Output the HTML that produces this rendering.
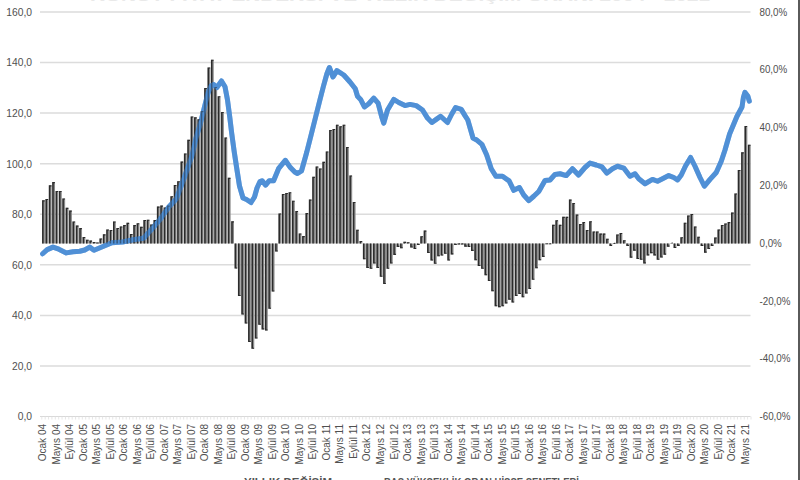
<!DOCTYPE html>
<html><head><meta charset="utf-8"><title>chart</title><style>
html,body{margin:0;padding:0;background:#fff;width:800px;height:480px;overflow:hidden}
svg{display:block}
text{font-family:"Liberation Sans",sans-serif}
</style></head><body>
<svg width="800" height="480" viewBox="0 0 800 480">
<rect x="0" y="0" width="800" height="480" fill="#fff"/>
<text x="400" y="0.6" text-anchor="middle" font-size="15" font-weight="bold" fill="#e9e9e9" textLength="620" lengthAdjust="spacingAndGlyphs">KONUT FİYAT ENDEKSİ VE YILLIK DEĞİŞİM ORANI 2004 - 2021</text>
<rect x="798" y="0" width="2" height="480" fill="#5a5a5a"/>
<path d="M40 12.00H750.5 M40 62.56H750.5 M40 113.12H750.5 M40 163.69H750.5 M40 214.25H750.5 M40 264.81H750.5 M40 315.38H750.5 M40 365.94H750.5" stroke="#dcdcdc" stroke-width="1.5" fill="none"/>
<path d="M40 416.5H750.5" stroke="#d9d9d9" stroke-width="1.2" fill="none"/>
<path d="M41.80 416.5V419.5 M45.18 416.5V419.5 M48.55 416.5V419.5 M51.93 416.5V419.5 M55.31 416.5V419.5 M58.69 416.5V419.5 M62.06 416.5V419.5 M65.44 416.5V419.5 M68.82 416.5V419.5 M72.19 416.5V419.5 M75.57 416.5V419.5 M78.95 416.5V419.5 M82.33 416.5V419.5 M85.70 416.5V419.5 M89.08 416.5V419.5 M92.46 416.5V419.5 M95.83 416.5V419.5 M99.21 416.5V419.5 M102.59 416.5V419.5 M105.97 416.5V419.5 M109.34 416.5V419.5 M112.72 416.5V419.5 M116.10 416.5V419.5 M119.47 416.5V419.5 M122.85 416.5V419.5 M126.23 416.5V419.5 M129.61 416.5V419.5 M132.98 416.5V419.5 M136.36 416.5V419.5 M139.74 416.5V419.5 M143.11 416.5V419.5 M146.49 416.5V419.5 M149.87 416.5V419.5 M153.25 416.5V419.5 M156.62 416.5V419.5 M160.00 416.5V419.5 M163.38 416.5V419.5 M166.75 416.5V419.5 M170.13 416.5V419.5 M173.51 416.5V419.5 M176.89 416.5V419.5 M180.26 416.5V419.5 M183.64 416.5V419.5 M187.02 416.5V419.5 M190.39 416.5V419.5 M193.77 416.5V419.5 M197.15 416.5V419.5 M200.53 416.5V419.5 M203.90 416.5V419.5 M207.28 416.5V419.5 M210.66 416.5V419.5 M214.03 416.5V419.5 M217.41 416.5V419.5 M220.79 416.5V419.5 M224.17 416.5V419.5 M227.54 416.5V419.5 M230.92 416.5V419.5 M234.30 416.5V419.5 M237.67 416.5V419.5 M241.05 416.5V419.5 M244.43 416.5V419.5 M247.81 416.5V419.5 M251.18 416.5V419.5 M254.56 416.5V419.5 M257.94 416.5V419.5 M261.31 416.5V419.5 M264.69 416.5V419.5 M268.07 416.5V419.5 M271.45 416.5V419.5 M274.82 416.5V419.5 M278.20 416.5V419.5 M281.58 416.5V419.5 M284.95 416.5V419.5 M288.33 416.5V419.5 M291.71 416.5V419.5 M295.09 416.5V419.5 M298.46 416.5V419.5 M301.84 416.5V419.5 M305.22 416.5V419.5 M308.59 416.5V419.5 M311.97 416.5V419.5 M315.35 416.5V419.5 M318.73 416.5V419.5 M322.10 416.5V419.5 M325.48 416.5V419.5 M328.86 416.5V419.5 M332.23 416.5V419.5 M335.61 416.5V419.5 M338.99 416.5V419.5 M342.37 416.5V419.5 M345.74 416.5V419.5 M349.12 416.5V419.5 M352.50 416.5V419.5 M355.87 416.5V419.5 M359.25 416.5V419.5 M362.63 416.5V419.5 M366.01 416.5V419.5 M369.38 416.5V419.5 M372.76 416.5V419.5 M376.14 416.5V419.5 M379.51 416.5V419.5 M382.89 416.5V419.5 M386.27 416.5V419.5 M389.65 416.5V419.5 M393.02 416.5V419.5 M396.40 416.5V419.5 M399.78 416.5V419.5 M403.15 416.5V419.5 M406.53 416.5V419.5 M409.91 416.5V419.5 M413.29 416.5V419.5 M416.66 416.5V419.5 M420.04 416.5V419.5 M423.42 416.5V419.5 M426.79 416.5V419.5 M430.17 416.5V419.5 M433.55 416.5V419.5 M436.93 416.5V419.5 M440.30 416.5V419.5 M443.68 416.5V419.5 M447.06 416.5V419.5 M450.43 416.5V419.5 M453.81 416.5V419.5 M457.19 416.5V419.5 M460.57 416.5V419.5 M463.94 416.5V419.5 M467.32 416.5V419.5 M470.70 416.5V419.5 M474.07 416.5V419.5 M477.45 416.5V419.5 M480.83 416.5V419.5 M484.21 416.5V419.5 M487.58 416.5V419.5 M490.96 416.5V419.5 M494.34 416.5V419.5 M497.71 416.5V419.5 M501.09 416.5V419.5 M504.47 416.5V419.5 M507.85 416.5V419.5 M511.22 416.5V419.5 M514.60 416.5V419.5 M517.98 416.5V419.5 M521.35 416.5V419.5 M524.73 416.5V419.5 M528.11 416.5V419.5 M531.49 416.5V419.5 M534.86 416.5V419.5 M538.24 416.5V419.5 M541.62 416.5V419.5 M544.99 416.5V419.5 M548.37 416.5V419.5 M551.75 416.5V419.5 M555.13 416.5V419.5 M558.50 416.5V419.5 M561.88 416.5V419.5 M565.26 416.5V419.5 M568.63 416.5V419.5 M572.01 416.5V419.5 M575.39 416.5V419.5 M578.77 416.5V419.5 M582.14 416.5V419.5 M585.52 416.5V419.5 M588.90 416.5V419.5 M592.27 416.5V419.5 M595.65 416.5V419.5 M599.03 416.5V419.5 M602.41 416.5V419.5 M605.78 416.5V419.5 M609.16 416.5V419.5 M612.54 416.5V419.5 M615.91 416.5V419.5 M619.29 416.5V419.5 M622.67 416.5V419.5 M626.05 416.5V419.5 M629.42 416.5V419.5 M632.80 416.5V419.5 M636.18 416.5V419.5 M639.55 416.5V419.5 M642.93 416.5V419.5 M646.31 416.5V419.5 M649.69 416.5V419.5 M653.06 416.5V419.5 M656.44 416.5V419.5 M659.82 416.5V419.5 M663.19 416.5V419.5 M666.57 416.5V419.5 M669.95 416.5V419.5 M673.33 416.5V419.5 M676.70 416.5V419.5 M680.08 416.5V419.5 M683.46 416.5V419.5 M686.83 416.5V419.5 M690.21 416.5V419.5 M693.59 416.5V419.5 M696.97 416.5V419.5 M700.34 416.5V419.5 M703.72 416.5V419.5 M707.10 416.5V419.5 M710.47 416.5V419.5 M713.85 416.5V419.5 M717.23 416.5V419.5 M720.61 416.5V419.5 M723.98 416.5V419.5 M727.36 416.5V419.5 M730.74 416.5V419.5 M734.11 416.5V419.5 M737.49 416.5V419.5 M740.87 416.5V419.5 M744.25 416.5V419.5 M747.62 416.5V419.5 M751.00 416.5V419.5" stroke="#e0e0e0" stroke-width="0.8" fill="none"/>
<text x="32" y="15.8" text-anchor="end" font-size="10.3" fill="#505050">160,0</text>
<text x="32" y="66.4" text-anchor="end" font-size="10.3" fill="#505050">140,0</text>
<text x="32" y="116.9" text-anchor="end" font-size="10.3" fill="#505050">120,0</text>
<text x="32" y="167.5" text-anchor="end" font-size="10.3" fill="#505050">100,0</text>
<text x="32" y="218.1" text-anchor="end" font-size="10.3" fill="#505050">80,0</text>
<text x="32" y="268.6" text-anchor="end" font-size="10.3" fill="#505050">60,0</text>
<text x="32" y="319.2" text-anchor="end" font-size="10.3" fill="#505050">40,0</text>
<text x="32" y="369.7" text-anchor="end" font-size="10.3" fill="#505050">20,0</text>
<text x="32" y="420.3" text-anchor="end" font-size="10.3" fill="#505050">0,0</text>
<text transform="translate(759.5,15.6) scale(0.95,1.05)" font-size="10.3" fill="#505050">80,0%</text>
<text transform="translate(759.5,73.4) scale(0.95,1.05)" font-size="10.3" fill="#505050">60,0%</text>
<text transform="translate(759.5,131.2) scale(0.95,1.05)" font-size="10.3" fill="#505050">40,0%</text>
<text transform="translate(759.5,189.0) scale(0.95,1.05)" font-size="10.3" fill="#505050">20,0%</text>
<text transform="translate(759.5,246.7) scale(0.95,1.05)" font-size="10.3" fill="#505050">0,0%</text>
<text transform="translate(759.5,304.5) scale(0.95,1.05)" font-size="10.3" fill="#505050">-20,0%</text>
<text transform="translate(759.5,362.3) scale(0.95,1.05)" font-size="10.3" fill="#505050">-40,0%</text>
<text transform="translate(759.5,420.1) scale(0.95,1.05)" font-size="10.3" fill="#505050">-60,0%</text>
<text transform="translate(46.29,424) rotate(-90) scale(1,1.1)" text-anchor="end" font-size="10" fill="#505050">Ocak 04</text>
<text transform="translate(59.80,424) rotate(-90) scale(1,1.1)" text-anchor="end" font-size="10" fill="#505050">Mayıs 04</text>
<text transform="translate(73.31,424) rotate(-90) scale(1,1.1)" text-anchor="end" font-size="10" fill="#505050">Eylül 04</text>
<text transform="translate(86.81,424) rotate(-90) scale(1,1.1)" text-anchor="end" font-size="10" fill="#505050">Ocak 05</text>
<text transform="translate(100.32,424) rotate(-90) scale(1,1.1)" text-anchor="end" font-size="10" fill="#505050">Mayıs 05</text>
<text transform="translate(113.83,424) rotate(-90) scale(1,1.1)" text-anchor="end" font-size="10" fill="#505050">Eylül 05</text>
<text transform="translate(127.34,424) rotate(-90) scale(1,1.1)" text-anchor="end" font-size="10" fill="#505050">Ocak 06</text>
<text transform="translate(140.85,424) rotate(-90) scale(1,1.1)" text-anchor="end" font-size="10" fill="#505050">Mayıs 06</text>
<text transform="translate(154.36,424) rotate(-90) scale(1,1.1)" text-anchor="end" font-size="10" fill="#505050">Eylül 06</text>
<text transform="translate(167.87,424) rotate(-90) scale(1,1.1)" text-anchor="end" font-size="10" fill="#505050">Ocak 07</text>
<text transform="translate(181.37,424) rotate(-90) scale(1,1.1)" text-anchor="end" font-size="10" fill="#505050">Mayıs 07</text>
<text transform="translate(194.88,424) rotate(-90) scale(1,1.1)" text-anchor="end" font-size="10" fill="#505050">Eylül 07</text>
<text transform="translate(208.39,424) rotate(-90) scale(1,1.1)" text-anchor="end" font-size="10" fill="#505050">Ocak 08</text>
<text transform="translate(221.90,424) rotate(-90) scale(1,1.1)" text-anchor="end" font-size="10" fill="#505050">Mayıs 08</text>
<text transform="translate(235.41,424) rotate(-90) scale(1,1.1)" text-anchor="end" font-size="10" fill="#505050">Eylül 08</text>
<text transform="translate(248.92,424) rotate(-90) scale(1,1.1)" text-anchor="end" font-size="10" fill="#505050">Ocak 09</text>
<text transform="translate(262.43,424) rotate(-90) scale(1,1.1)" text-anchor="end" font-size="10" fill="#505050">Mayıs 09</text>
<text transform="translate(275.93,424) rotate(-90) scale(1,1.1)" text-anchor="end" font-size="10" fill="#505050">Eylül 09</text>
<text transform="translate(289.44,424) rotate(-90) scale(1,1.1)" text-anchor="end" font-size="10" fill="#505050">Ocak 10</text>
<text transform="translate(302.95,424) rotate(-90) scale(1,1.1)" text-anchor="end" font-size="10" fill="#505050">Mayıs 10</text>
<text transform="translate(316.46,424) rotate(-90) scale(1,1.1)" text-anchor="end" font-size="10" fill="#505050">Eylül 10</text>
<text transform="translate(329.97,424) rotate(-90) scale(1,1.1)" text-anchor="end" font-size="10" fill="#505050">Ocak 11</text>
<text transform="translate(343.48,424) rotate(-90) scale(1,1.1)" text-anchor="end" font-size="10" fill="#505050">Mayıs 11</text>
<text transform="translate(356.99,424) rotate(-90) scale(1,1.1)" text-anchor="end" font-size="10" fill="#505050">Eylül 11</text>
<text transform="translate(370.49,424) rotate(-90) scale(1,1.1)" text-anchor="end" font-size="10" fill="#505050">Ocak 12</text>
<text transform="translate(384.00,424) rotate(-90) scale(1,1.1)" text-anchor="end" font-size="10" fill="#505050">Mayıs 12</text>
<text transform="translate(397.51,424) rotate(-90) scale(1,1.1)" text-anchor="end" font-size="10" fill="#505050">Eylül 12</text>
<text transform="translate(411.02,424) rotate(-90) scale(1,1.1)" text-anchor="end" font-size="10" fill="#505050">Ocak 13</text>
<text transform="translate(424.53,424) rotate(-90) scale(1,1.1)" text-anchor="end" font-size="10" fill="#505050">Mayıs 13</text>
<text transform="translate(438.04,424) rotate(-90) scale(1,1.1)" text-anchor="end" font-size="10" fill="#505050">Eylül 13</text>
<text transform="translate(451.55,424) rotate(-90) scale(1,1.1)" text-anchor="end" font-size="10" fill="#505050">Ocak 14</text>
<text transform="translate(465.05,424) rotate(-90) scale(1,1.1)" text-anchor="end" font-size="10" fill="#505050">Mayıs 14</text>
<text transform="translate(478.56,424) rotate(-90) scale(1,1.1)" text-anchor="end" font-size="10" fill="#505050">Eylül 14</text>
<text transform="translate(492.07,424) rotate(-90) scale(1,1.1)" text-anchor="end" font-size="10" fill="#505050">Ocak 15</text>
<text transform="translate(505.58,424) rotate(-90) scale(1,1.1)" text-anchor="end" font-size="10" fill="#505050">Mayıs 15</text>
<text transform="translate(519.09,424) rotate(-90) scale(1,1.1)" text-anchor="end" font-size="10" fill="#505050">Eylül 15</text>
<text transform="translate(532.60,424) rotate(-90) scale(1,1.1)" text-anchor="end" font-size="10" fill="#505050">Ocak 16</text>
<text transform="translate(546.11,424) rotate(-90) scale(1,1.1)" text-anchor="end" font-size="10" fill="#505050">Mayıs 16</text>
<text transform="translate(559.61,424) rotate(-90) scale(1,1.1)" text-anchor="end" font-size="10" fill="#505050">Eylül 16</text>
<text transform="translate(573.12,424) rotate(-90) scale(1,1.1)" text-anchor="end" font-size="10" fill="#505050">Ocak 17</text>
<text transform="translate(586.63,424) rotate(-90) scale(1,1.1)" text-anchor="end" font-size="10" fill="#505050">Mayıs 17</text>
<text transform="translate(600.14,424) rotate(-90) scale(1,1.1)" text-anchor="end" font-size="10" fill="#505050">Eylül 17</text>
<text transform="translate(613.65,424) rotate(-90) scale(1,1.1)" text-anchor="end" font-size="10" fill="#505050">Ocak 18</text>
<text transform="translate(627.16,424) rotate(-90) scale(1,1.1)" text-anchor="end" font-size="10" fill="#505050">Mayıs 18</text>
<text transform="translate(640.67,424) rotate(-90) scale(1,1.1)" text-anchor="end" font-size="10" fill="#505050">Eylül 18</text>
<text transform="translate(654.17,424) rotate(-90) scale(1,1.1)" text-anchor="end" font-size="10" fill="#505050">Ocak 19</text>
<text transform="translate(667.68,424) rotate(-90) scale(1,1.1)" text-anchor="end" font-size="10" fill="#505050">Mayıs 19</text>
<text transform="translate(681.19,424) rotate(-90) scale(1,1.1)" text-anchor="end" font-size="10" fill="#505050">Eylül 19</text>
<text transform="translate(694.70,424) rotate(-90) scale(1,1.1)" text-anchor="end" font-size="10" fill="#505050">Ocak 20</text>
<text transform="translate(708.21,424) rotate(-90) scale(1,1.1)" text-anchor="end" font-size="10" fill="#505050">Mayıs 20</text>
<text transform="translate(721.72,424) rotate(-90) scale(1,1.1)" text-anchor="end" font-size="10" fill="#505050">Eylül 20</text>
<text transform="translate(735.23,424) rotate(-90) scale(1,1.1)" text-anchor="end" font-size="10" fill="#505050">Ocak 21</text>
<text transform="translate(748.73,424) rotate(-90) scale(1,1.1)" text-anchor="end" font-size="10" fill="#505050">Mayıs 21</text>
<path d="M42.09 200.30h2.8v43.10h-2.8z M45.47 199.00h2.8v44.40h-2.8z M48.84 185.30h2.8v58.10h-2.8z M52.22 182.10h2.8v61.30h-2.8z M55.60 190.90h2.8v52.50h-2.8z M58.97 190.90h2.8v52.50h-2.8z M62.35 198.40h2.8v45.00h-2.8z M65.73 207.80h2.8v35.60h-2.8z M69.11 210.60h2.8v32.80h-2.8z M72.48 221.50h2.8v21.90h-2.8z M75.86 225.60h2.8v17.80h-2.8z M79.24 228.10h2.8v15.30h-2.8z M82.61 236.90h2.8v6.50h-2.8z M85.99 239.70h2.8v3.70h-2.8z M89.37 240.60h2.8v2.80h-2.8z M92.75 242.10h2.8v1.30h-2.8z M96.12 242.50h2.8v0.90h-2.8z M99.50 238.50h2.8v4.90h-2.8z M102.88 234.30h2.8v9.10h-2.8z M106.25 229.40h2.8v14.00h-2.8z M109.63 229.90h2.8v13.50h-2.8z M113.01 221.50h2.8v21.90h-2.8z M116.39 228.00h2.8v15.40h-2.8z M119.76 226.40h2.8v17.00h-2.8z M123.14 225.10h2.8v18.30h-2.8z M126.52 222.80h2.8v20.60h-2.8z M129.89 233.90h2.8v9.50h-2.8z M133.27 225.10h2.8v18.30h-2.8z M136.65 223.20h2.8v20.20h-2.8z M140.03 226.80h2.8v16.60h-2.8z M143.40 220.00h2.8v23.40h-2.8z M146.78 219.70h2.8v23.70h-2.8z M150.16 224.50h2.8v18.90h-2.8z M153.53 220.00h2.8v23.40h-2.8z M156.91 206.60h2.8v36.80h-2.8z M160.29 205.60h2.8v37.80h-2.8z M163.67 207.50h2.8v35.90h-2.8z M167.04 205.60h2.8v37.80h-2.8z M170.42 196.25h2.8v47.15h-2.8z M173.80 185.00h2.8v58.40h-2.8z M177.17 181.25h2.8v62.15h-2.8z M180.55 161.60h2.8v81.80h-2.8z M183.93 153.50h2.8v89.90h-2.8z M187.31 139.80h2.8v103.60h-2.8z M190.68 116.40h2.8v127.00h-2.8z M194.06 117.30h2.8v126.10h-2.8z M197.44 119.20h2.8v124.20h-2.8z M200.81 111.10h2.8v132.30h-2.8z M204.19 88.00h2.8v155.40h-2.8z M207.57 67.40h2.8v176.00h-2.8z M210.95 59.70h2.8v183.70h-2.8z M214.32 87.00h2.8v156.40h-2.8z M217.70 96.25h2.8v147.15h-2.8z M221.08 112.00h2.8v131.40h-2.8z M224.45 137.50h2.8v105.90h-2.8z M227.83 177.80h2.8v65.60h-2.8z M231.21 221.30h2.8v22.10h-2.8z M234.59 243.40h2.8v25.20h-2.8z M237.96 243.40h2.8v52.70h-2.8z M241.34 243.40h2.8v71.10h-2.8z M244.72 243.40h2.8v80.20h-2.8z M248.09 243.40h2.8v98.60h-2.8z M251.47 243.40h2.8v105.40h-2.8z M254.85 243.40h2.8v95.10h-2.8z M258.23 243.40h2.8v81.40h-2.8z M261.60 243.40h2.8v86.00h-2.8z M264.98 243.40h2.8v87.10h-2.8z M268.36 243.40h2.8v65.35h-2.8z M271.73 243.40h2.8v48.20h-2.8z M275.11 243.40h2.8v8.10h-2.8z M278.49 213.40h2.8v30.00h-2.8z M281.87 194.00h2.8v49.40h-2.8z M285.24 193.00h2.8v50.40h-2.8z M288.62 192.20h2.8v51.20h-2.8z M292.00 200.70h2.8v42.70h-2.8z M295.37 211.00h2.8v32.40h-2.8z M298.75 233.40h2.8v10.00h-2.8z M302.13 236.10h2.8v7.30h-2.8z M305.51 213.10h2.8v30.30h-2.8z M308.88 199.60h2.8v43.80h-2.8z M312.26 176.80h2.8v66.60h-2.8z M315.64 166.50h2.8v76.90h-2.8z M319.01 168.50h2.8v74.90h-2.8z M322.39 161.80h2.8v81.60h-2.8z M325.77 151.50h2.8v91.90h-2.8z M329.15 130.00h2.8v113.40h-2.8z M332.52 129.00h2.8v114.40h-2.8z M335.90 124.75h2.8v118.65h-2.8z M339.28 126.25h2.8v117.15h-2.8z M342.65 124.75h2.8v118.65h-2.8z M346.03 146.90h2.8v96.50h-2.8z M349.41 175.50h2.8v67.90h-2.8z M352.79 201.90h2.8v41.50h-2.8z M356.16 229.70h2.8v13.70h-2.8z M359.54 241.00h2.8v2.40h-2.8z M362.92 243.40h2.8v15.90h-2.8z M366.29 243.40h2.8v24.60h-2.8z M369.67 243.40h2.8v25.35h-2.8z M373.05 243.40h2.8v20.20h-2.8z M376.43 243.40h2.8v24.60h-2.8z M379.80 243.40h2.8v33.40h-2.8z M383.18 243.40h2.8v40.60h-2.8z M386.56 243.40h2.8v25.35h-2.8z M389.93 243.40h2.8v20.20h-2.8z M393.31 243.40h2.8v11.50h-2.8z M396.69 243.40h2.8v3.50h-2.8z M400.07 243.40h2.8v4.90h-2.8z M403.44 241.80h2.8v1.60h-2.8z M406.82 242.20h2.8v1.20h-2.8z M410.20 243.40h2.8v4.10h-2.8z M413.57 243.40h2.8v5.60h-2.8z M416.95 243.40h2.8v1.60h-2.8z M420.33 236.25h2.8v7.15h-2.8z M423.71 230.60h2.8v12.80h-2.8z M427.08 243.40h2.8v9.70h-2.8z M430.46 243.40h2.8v17.20h-2.8z M433.84 243.40h2.8v20.35h-2.8z M437.21 243.40h2.8v12.85h-2.8z M440.59 243.40h2.8v12.20h-2.8z M443.97 243.40h2.8v10.35h-2.8z M447.35 243.40h2.8v17.20h-2.8z M450.72 243.40h2.8v11.00h-2.8z M454.10 243.40h2.8v1.60h-2.8z M457.48 243.40h2.8v1.00h-2.8z M460.85 243.40h2.8v1.00h-2.8z M464.23 243.40h2.8v3.30h-2.8z M467.61 243.40h2.8v3.60h-2.8z M470.99 243.40h2.8v7.50h-2.8z M474.36 243.40h2.8v16.90h-2.8z M477.74 243.40h2.8v22.60h-2.8z M481.12 243.40h2.8v25.35h-2.8z M484.49 243.40h2.8v31.90h-2.8z M487.87 243.40h2.8v37.60h-2.8z M491.25 243.40h2.8v47.85h-2.8z M494.63 243.40h2.8v62.85h-2.8z M498.00 243.40h2.8v63.80h-2.8z M501.38 243.40h2.8v62.85h-2.8z M504.76 243.40h2.8v60.00h-2.8z M508.13 243.40h2.8v56.30h-2.8z M511.51 243.40h2.8v59.10h-2.8z M514.89 243.40h2.8v52.60h-2.8z M518.27 243.40h2.8v50.60h-2.8z M521.64 243.40h2.8v53.90h-2.8z M525.02 243.40h2.8v50.10h-2.8z M528.40 243.40h2.8v45.60h-2.8z M531.77 243.40h2.8v36.40h-2.8z M535.15 243.40h2.8v24.90h-2.8z M538.53 243.40h2.8v16.90h-2.8z M541.91 243.40h2.8v13.50h-2.8z M545.28 243.40h2.8v0.90h-2.8z M548.66 243.40h2.8v0.90h-2.8z M552.04 224.80h2.8v18.60h-2.8z M555.41 220.20h2.8v23.20h-2.8z M558.79 224.80h2.8v18.60h-2.8z M562.17 216.80h2.8v26.60h-2.8z M565.55 216.80h2.8v26.60h-2.8z M568.92 199.60h2.8v43.80h-2.8z M572.30 203.00h2.8v40.40h-2.8z M575.68 214.60h2.8v28.80h-2.8z M579.05 223.90h2.8v19.50h-2.8z M582.43 222.00h2.8v21.40h-2.8z M585.81 230.00h2.8v13.40h-2.8z M589.19 221.25h2.8v22.15h-2.8z M592.56 231.50h2.8v11.90h-2.8z M595.94 231.50h2.8v11.90h-2.8z M599.32 233.60h2.8v9.80h-2.8z M602.69 233.60h2.8v9.80h-2.8z M606.07 238.75h2.8v4.65h-2.8z M609.45 243.40h2.8v2.60h-2.8z M612.83 243.40h2.8v0.50h-2.8z M616.20 234.40h2.8v9.00h-2.8z M619.58 232.90h2.8v10.50h-2.8z M622.96 240.20h2.8v3.20h-2.8z M626.33 243.40h2.8v2.60h-2.8z M629.71 243.40h2.8v14.25h-2.8z M633.09 243.40h2.8v7.30h-2.8z M636.47 243.40h2.8v15.70h-2.8z M639.84 243.40h2.8v16.40h-2.8z M643.22 243.40h2.8v20.00h-2.8z M646.60 243.40h2.8v12.00h-2.8z M649.97 243.40h2.8v9.80h-2.8z M653.35 243.40h2.8v12.00h-2.8z M656.73 243.40h2.8v16.40h-2.8z M660.11 243.40h2.8v14.20h-2.8z M663.48 243.40h2.8v11.30h-2.8z M666.86 243.40h2.8v3.30h-2.8z M670.24 243.40h2.8v0.40h-2.8z M673.61 243.40h2.8v4.70h-2.8z M676.99 243.40h2.8v2.50h-2.8z M680.37 237.20h2.8v6.20h-2.8z M683.75 222.70h2.8v20.70h-2.8z M687.12 215.40h2.8v28.00h-2.8z M690.50 214.00h2.8v29.40h-2.8z M693.88 226.50h2.8v16.90h-2.8z M697.25 236.70h2.8v6.70h-2.8z M700.63 243.40h2.8v2.70h-2.8z M704.01 243.40h2.8v9.30h-2.8z M707.39 243.40h2.8v5.60h-2.8z M710.76 243.40h2.8v2.70h-2.8z M714.14 237.40h2.8v6.00h-2.8z M717.52 229.40h2.8v14.00h-2.8z M720.89 225.00h2.8v18.40h-2.8z M724.27 223.50h2.8v19.90h-2.8z M727.65 222.10h2.8v21.30h-2.8z M731.03 212.60h2.8v30.80h-2.8z M734.40 193.40h2.8v50.00h-2.8z M737.78 170.00h2.8v73.40h-2.8z M741.16 152.30h2.8v91.10h-2.8z M744.53 126.00h2.8v117.40h-2.8z M747.91 144.70h2.8v98.70h-2.8z" fill="#8c8c8c"/>
<path d="M42.60 253.75 L47.20 249.60 L53.00 247.10 L58.80 249.20 L66.30 252.90 L73.00 251.70 L79.70 251.25 L84.70 250.00 L89.70 247.10 L94.00 250.20 L103.00 246.50 L112.00 242.75 L122.50 242.00 L133.00 239.75 L143.50 238.25 L151.00 230.00 L160.00 219.50 L168.75 207.00 L176.25 199.00 L184.50 177.00 L192.20 155.00 L196.00 138.00 L200.00 125.00 L204.70 106.00 L208.00 93.00 L211.00 86.00 L213.75 84.50 L216.90 87.50 L221.50 81.00 L225.00 86.70 L227.50 100.00 L229.70 116.70 L231.70 133.30 L234.20 151.70 L236.80 168.75 L239.50 186.00 L243.00 198.00 L246.50 199.50 L251.00 202.50 L254.50 197.00 L257.00 188.00 L260.00 181.50 L262.00 180.70 L265.60 185.10 L269.30 180.70 L273.60 180.70 L278.75 168.30 L285.30 160.30 L290.40 167.60 L294.80 172.00 L297.50 173.50 L301.50 171.00 L306.80 152.00 L311.10 135.00 L315.50 117.50 L319.90 100.00 L323.50 86.00 L326.90 73.75 L329.40 67.50 L333.00 77.00 L336.90 70.60 L343.75 75.00 L350.00 82.00 L355.30 88.75 L357.50 96.25 L360.60 99.40 L364.40 106.90 L368.75 103.75 L373.75 98.10 L378.10 103.10 L381.90 117.50 L383.75 123.10 L387.50 110.00 L393.75 99.40 L398.75 102.50 L405.00 105.60 L410.00 104.40 L416.25 105.60 L422.50 110.00 L427.50 118.10 L431.90 122.50 L436.25 119.40 L440.60 116.25 L447.50 122.50 L451.90 113.75 L455.60 107.50 L461.25 109.40 L465.00 115.60 L467.80 120.00 L473.00 138.00 L476.25 139.70 L481.90 144.40 L486.60 154.70 L491.25 168.75 L495.90 176.25 L502.50 176.25 L509.10 180.90 L513.75 190.30 L519.40 187.50 L523.75 195.00 L528.75 200.60 L533.75 196.25 L538.75 191.50 L545.00 180.60 L550.00 180.00 L555.00 174.40 L560.00 173.75 L566.25 175.60 L572.50 168.75 L578.50 175.00 L585.00 167.50 L590.00 163.10 L596.25 165.00 L601.90 166.90 L606.90 173.10 L612.50 168.75 L617.50 166.25 L623.75 168.10 L630.00 176.25 L635.00 173.75 L638.75 178.75 L645.00 183.75 L652.50 179.40 L657.50 181.25 L662.50 178.75 L668.75 175.60 L673.75 177.50 L677.50 180.00 L681.25 175.00 L685.50 166.00 L690.60 157.50 L695.00 166.25 L700.00 177.50 L704.40 186.25 L710.00 179.40 L716.25 172.50 L721.25 161.25 L725.00 150.00 L729.60 134.00 L736.90 116.50 L742.00 107.00 L743.40 97.50 L744.90 92.40 L747.80 96.00 L749.30 101.10" stroke="#5090d6" stroke-width="5" fill="none" stroke-linejoin="round" stroke-linecap="round"/>
<path d="M42.09 200.30h1.5v43.10h-1.5z M43.39 200.30h1.3v1.1h-1.3z M45.47 199.00h1.5v44.40h-1.5z M46.77 199.00h1.3v1.1h-1.3z M48.84 185.30h1.5v58.10h-1.5z M50.14 185.30h1.3v1.1h-1.3z M52.22 182.10h1.5v61.30h-1.5z M53.52 182.10h1.3v1.1h-1.3z M55.60 190.90h1.5v52.50h-1.5z M56.90 190.90h1.3v1.1h-1.3z M58.97 190.90h1.5v52.50h-1.5z M60.27 190.90h1.3v1.1h-1.3z M62.35 198.40h1.5v45.00h-1.5z M63.65 198.40h1.3v1.1h-1.3z M65.73 207.80h1.5v35.60h-1.5z M67.03 207.80h1.3v1.1h-1.3z M69.11 210.60h1.5v32.80h-1.5z M70.41 210.60h1.3v1.1h-1.3z M72.48 221.50h1.5v21.90h-1.5z M73.78 221.50h1.3v1.1h-1.3z M75.86 225.60h1.5v17.80h-1.5z M77.16 225.60h1.3v1.1h-1.3z M79.24 228.10h1.5v15.30h-1.5z M80.54 228.10h1.3v1.1h-1.3z M82.61 236.90h1.5v6.50h-1.5z M83.91 236.90h1.3v1.1h-1.3z M85.99 239.70h1.5v3.70h-1.5z M87.29 239.70h1.3v1.1h-1.3z M89.37 240.60h1.5v2.80h-1.5z M90.67 240.60h1.3v1.1h-1.3z M92.75 242.10h1.5v1.30h-1.5z M94.05 242.10h1.3v1.1h-1.3z M96.12 242.50h1.5v0.90h-1.5z M97.42 242.50h1.3v1.1h-1.3z M99.50 238.50h1.5v4.90h-1.5z M100.80 238.50h1.3v1.1h-1.3z M102.88 234.30h1.5v9.10h-1.5z M104.18 234.30h1.3v1.1h-1.3z M106.25 229.40h1.5v14.00h-1.5z M107.55 229.40h1.3v1.1h-1.3z M109.63 229.90h1.5v13.50h-1.5z M110.93 229.90h1.3v1.1h-1.3z M113.01 221.50h1.5v21.90h-1.5z M114.31 221.50h1.3v1.1h-1.3z M116.39 228.00h1.5v15.40h-1.5z M117.69 228.00h1.3v1.1h-1.3z M119.76 226.40h1.5v17.00h-1.5z M121.06 226.40h1.3v1.1h-1.3z M123.14 225.10h1.5v18.30h-1.5z M124.44 225.10h1.3v1.1h-1.3z M126.52 222.80h1.5v20.60h-1.5z M127.82 222.80h1.3v1.1h-1.3z M129.89 233.90h1.5v9.50h-1.5z M131.19 233.90h1.3v1.1h-1.3z M133.27 225.10h1.5v18.30h-1.5z M134.57 225.10h1.3v1.1h-1.3z M136.65 223.20h1.5v20.20h-1.5z M137.95 223.20h1.3v1.1h-1.3z M140.03 226.80h1.5v16.60h-1.5z M141.33 226.80h1.3v1.1h-1.3z M143.40 220.00h1.5v23.40h-1.5z M144.70 220.00h1.3v1.1h-1.3z M146.78 219.70h1.5v23.70h-1.5z M148.08 219.70h1.3v1.1h-1.3z M150.16 224.50h1.5v18.90h-1.5z M151.46 224.50h1.3v1.1h-1.3z M153.53 220.00h1.5v23.40h-1.5z M154.83 220.00h1.3v1.1h-1.3z M156.91 206.60h1.5v36.80h-1.5z M158.21 206.60h1.3v1.1h-1.3z M160.29 205.60h1.5v37.80h-1.5z M161.59 205.60h1.3v1.1h-1.3z M163.67 207.50h1.5v35.90h-1.5z M164.97 207.50h1.3v1.1h-1.3z M167.04 205.60h1.5v37.80h-1.5z M168.34 205.60h1.3v1.1h-1.3z M170.42 196.25h1.5v47.15h-1.5z M171.72 196.25h1.3v1.1h-1.3z M173.80 185.00h1.5v58.40h-1.5z M175.10 185.00h1.3v1.1h-1.3z M177.17 181.25h1.5v62.15h-1.5z M178.47 181.25h1.3v1.1h-1.3z M180.55 161.60h1.5v81.80h-1.5z M181.85 161.60h1.3v1.1h-1.3z M183.93 153.50h1.5v89.90h-1.5z M185.23 153.50h1.3v1.1h-1.3z M187.31 139.80h1.5v103.60h-1.5z M188.61 139.80h1.3v1.1h-1.3z M190.68 116.40h1.5v127.00h-1.5z M191.98 116.40h1.3v1.1h-1.3z M194.06 117.30h1.5v126.10h-1.5z M195.36 117.30h1.3v1.1h-1.3z M197.44 119.20h1.5v124.20h-1.5z M198.74 119.20h1.3v1.1h-1.3z M200.81 111.10h1.5v132.30h-1.5z M202.11 111.10h1.3v1.1h-1.3z M204.19 88.00h1.5v155.40h-1.5z M205.49 88.00h1.3v1.1h-1.3z M207.57 67.40h1.5v176.00h-1.5z M208.87 67.40h1.3v1.1h-1.3z M210.95 59.70h1.5v183.70h-1.5z M212.25 59.70h1.3v1.1h-1.3z M214.32 87.00h1.5v156.40h-1.5z M215.62 87.00h1.3v1.1h-1.3z M217.70 96.25h1.5v147.15h-1.5z M219.00 96.25h1.3v1.1h-1.3z M221.08 112.00h1.5v131.40h-1.5z M222.38 112.00h1.3v1.1h-1.3z M224.45 137.50h1.5v105.90h-1.5z M225.75 137.50h1.3v1.1h-1.3z M227.83 177.80h1.5v65.60h-1.5z M229.13 177.80h1.3v1.1h-1.3z M231.21 221.30h1.5v22.10h-1.5z M232.51 221.30h1.3v1.1h-1.3z M234.59 243.40h1.5v25.20h-1.5z M235.89 267.50h1.3v1.1h-1.3z M237.96 243.40h1.5v52.70h-1.5z M239.26 295.00h1.3v1.1h-1.3z M241.34 243.40h1.5v71.10h-1.5z M242.64 313.40h1.3v1.1h-1.3z M244.72 243.40h1.5v80.20h-1.5z M246.02 322.50h1.3v1.1h-1.3z M248.09 243.40h1.5v98.60h-1.5z M249.39 340.90h1.3v1.1h-1.3z M251.47 243.40h1.5v105.40h-1.5z M252.77 347.70h1.3v1.1h-1.3z M254.85 243.40h1.5v95.10h-1.5z M256.15 337.40h1.3v1.1h-1.3z M258.23 243.40h1.5v81.40h-1.5z M259.53 323.70h1.3v1.1h-1.3z M261.60 243.40h1.5v86.00h-1.5z M262.90 328.30h1.3v1.1h-1.3z M264.98 243.40h1.5v87.10h-1.5z M266.28 329.40h1.3v1.1h-1.3z M268.36 243.40h1.5v65.35h-1.5z M269.66 307.65h1.3v1.1h-1.3z M271.73 243.40h1.5v48.20h-1.5z M273.03 290.50h1.3v1.1h-1.3z M275.11 243.40h1.5v8.10h-1.5z M276.41 250.40h1.3v1.1h-1.3z M278.49 213.40h1.5v30.00h-1.5z M279.79 213.40h1.3v1.1h-1.3z M281.87 194.00h1.5v49.40h-1.5z M283.17 194.00h1.3v1.1h-1.3z M285.24 193.00h1.5v50.40h-1.5z M286.54 193.00h1.3v1.1h-1.3z M288.62 192.20h1.5v51.20h-1.5z M289.92 192.20h1.3v1.1h-1.3z M292.00 200.70h1.5v42.70h-1.5z M293.30 200.70h1.3v1.1h-1.3z M295.37 211.00h1.5v32.40h-1.5z M296.67 211.00h1.3v1.1h-1.3z M298.75 233.40h1.5v10.00h-1.5z M300.05 233.40h1.3v1.1h-1.3z M302.13 236.10h1.5v7.30h-1.5z M303.43 236.10h1.3v1.1h-1.3z M305.51 213.10h1.5v30.30h-1.5z M306.81 213.10h1.3v1.1h-1.3z M308.88 199.60h1.5v43.80h-1.5z M310.18 199.60h1.3v1.1h-1.3z M312.26 176.80h1.5v66.60h-1.5z M313.56 176.80h1.3v1.1h-1.3z M315.64 166.50h1.5v76.90h-1.5z M316.94 166.50h1.3v1.1h-1.3z M319.01 168.50h1.5v74.90h-1.5z M320.31 168.50h1.3v1.1h-1.3z M322.39 161.80h1.5v81.60h-1.5z M323.69 161.80h1.3v1.1h-1.3z M325.77 151.50h1.5v91.90h-1.5z M327.07 151.50h1.3v1.1h-1.3z M329.15 130.00h1.5v113.40h-1.5z M330.45 130.00h1.3v1.1h-1.3z M332.52 129.00h1.5v114.40h-1.5z M333.82 129.00h1.3v1.1h-1.3z M335.90 124.75h1.5v118.65h-1.5z M337.20 124.75h1.3v1.1h-1.3z M339.28 126.25h1.5v117.15h-1.5z M340.58 126.25h1.3v1.1h-1.3z M342.65 124.75h1.5v118.65h-1.5z M343.95 124.75h1.3v1.1h-1.3z M346.03 146.90h1.5v96.50h-1.5z M347.33 146.90h1.3v1.1h-1.3z M349.41 175.50h1.5v67.90h-1.5z M350.71 175.50h1.3v1.1h-1.3z M352.79 201.90h1.5v41.50h-1.5z M354.09 201.90h1.3v1.1h-1.3z M356.16 229.70h1.5v13.70h-1.5z M357.46 229.70h1.3v1.1h-1.3z M359.54 241.00h1.5v2.40h-1.5z M360.84 241.00h1.3v1.1h-1.3z M362.92 243.40h1.5v15.90h-1.5z M364.22 258.20h1.3v1.1h-1.3z M366.29 243.40h1.5v24.60h-1.5z M367.59 266.90h1.3v1.1h-1.3z M369.67 243.40h1.5v25.35h-1.5z M370.97 267.65h1.3v1.1h-1.3z M373.05 243.40h1.5v20.20h-1.5z M374.35 262.50h1.3v1.1h-1.3z M376.43 243.40h1.5v24.60h-1.5z M377.73 266.90h1.3v1.1h-1.3z M379.80 243.40h1.5v33.40h-1.5z M381.10 275.70h1.3v1.1h-1.3z M383.18 243.40h1.5v40.60h-1.5z M384.48 282.90h1.3v1.1h-1.3z M386.56 243.40h1.5v25.35h-1.5z M387.86 267.65h1.3v1.1h-1.3z M389.93 243.40h1.5v20.20h-1.5z M391.23 262.50h1.3v1.1h-1.3z M393.31 243.40h1.5v11.50h-1.5z M394.61 253.80h1.3v1.1h-1.3z M396.69 243.40h1.5v3.50h-1.5z M397.99 245.80h1.3v1.1h-1.3z M400.07 243.40h1.5v4.90h-1.5z M401.37 247.20h1.3v1.1h-1.3z M403.44 241.80h1.5v1.60h-1.5z M404.74 241.80h1.3v1.1h-1.3z M406.82 242.20h1.5v1.20h-1.5z M408.12 242.20h1.3v1.1h-1.3z M410.20 243.40h1.5v4.10h-1.5z M411.50 246.40h1.3v1.1h-1.3z M413.57 243.40h1.5v5.60h-1.5z M414.87 247.90h1.3v1.1h-1.3z M416.95 243.40h1.5v1.60h-1.5z M418.25 243.90h1.3v1.1h-1.3z M420.33 236.25h1.5v7.15h-1.5z M421.63 236.25h1.3v1.1h-1.3z M423.71 230.60h1.5v12.80h-1.5z M425.01 230.60h1.3v1.1h-1.3z M427.08 243.40h1.5v9.70h-1.5z M428.38 252.00h1.3v1.1h-1.3z M430.46 243.40h1.5v17.20h-1.5z M431.76 259.50h1.3v1.1h-1.3z M433.84 243.40h1.5v20.35h-1.5z M435.14 262.65h1.3v1.1h-1.3z M437.21 243.40h1.5v12.85h-1.5z M438.51 255.15h1.3v1.1h-1.3z M440.59 243.40h1.5v12.20h-1.5z M441.89 254.50h1.3v1.1h-1.3z M443.97 243.40h1.5v10.35h-1.5z M445.27 252.65h1.3v1.1h-1.3z M447.35 243.40h1.5v17.20h-1.5z M448.65 259.50h1.3v1.1h-1.3z M450.72 243.40h1.5v11.00h-1.5z M452.02 253.30h1.3v1.1h-1.3z M454.10 243.40h1.5v1.60h-1.5z M455.40 243.90h1.3v1.1h-1.3z M457.48 243.40h1.5v1.00h-1.5z M458.78 243.30h1.3v1.1h-1.3z M460.85 243.40h1.5v1.00h-1.5z M462.15 243.30h1.3v1.1h-1.3z M464.23 243.40h1.5v3.30h-1.5z M465.53 245.60h1.3v1.1h-1.3z M467.61 243.40h1.5v3.60h-1.5z M468.91 245.90h1.3v1.1h-1.3z M470.99 243.40h1.5v7.50h-1.5z M472.29 249.80h1.3v1.1h-1.3z M474.36 243.40h1.5v16.90h-1.5z M475.66 259.20h1.3v1.1h-1.3z M477.74 243.40h1.5v22.60h-1.5z M479.04 264.90h1.3v1.1h-1.3z M481.12 243.40h1.5v25.35h-1.5z M482.42 267.65h1.3v1.1h-1.3z M484.49 243.40h1.5v31.90h-1.5z M485.79 274.20h1.3v1.1h-1.3z M487.87 243.40h1.5v37.60h-1.5z M489.17 279.90h1.3v1.1h-1.3z M491.25 243.40h1.5v47.85h-1.5z M492.55 290.15h1.3v1.1h-1.3z M494.63 243.40h1.5v62.85h-1.5z M495.93 305.15h1.3v1.1h-1.3z M498.00 243.40h1.5v63.80h-1.5z M499.30 306.10h1.3v1.1h-1.3z M501.38 243.40h1.5v62.85h-1.5z M502.68 305.15h1.3v1.1h-1.3z M504.76 243.40h1.5v60.00h-1.5z M506.06 302.30h1.3v1.1h-1.3z M508.13 243.40h1.5v56.30h-1.5z M509.43 298.60h1.3v1.1h-1.3z M511.51 243.40h1.5v59.10h-1.5z M512.81 301.40h1.3v1.1h-1.3z M514.89 243.40h1.5v52.60h-1.5z M516.19 294.90h1.3v1.1h-1.3z M518.27 243.40h1.5v50.60h-1.5z M519.57 292.90h1.3v1.1h-1.3z M521.64 243.40h1.5v53.90h-1.5z M522.94 296.20h1.3v1.1h-1.3z M525.02 243.40h1.5v50.10h-1.5z M526.32 292.40h1.3v1.1h-1.3z M528.40 243.40h1.5v45.60h-1.5z M529.70 287.90h1.3v1.1h-1.3z M531.77 243.40h1.5v36.40h-1.5z M533.07 278.70h1.3v1.1h-1.3z M535.15 243.40h1.5v24.90h-1.5z M536.45 267.20h1.3v1.1h-1.3z M538.53 243.40h1.5v16.90h-1.5z M539.83 259.20h1.3v1.1h-1.3z M541.91 243.40h1.5v13.50h-1.5z M543.21 255.80h1.3v1.1h-1.3z M545.28 243.40h1.5v0.90h-1.5z M546.58 243.20h1.3v1.1h-1.3z M548.66 243.40h1.5v0.90h-1.5z M549.96 243.20h1.3v1.1h-1.3z M552.04 224.80h1.5v18.60h-1.5z M553.34 224.80h1.3v1.1h-1.3z M555.41 220.20h1.5v23.20h-1.5z M556.71 220.20h1.3v1.1h-1.3z M558.79 224.80h1.5v18.60h-1.5z M560.09 224.80h1.3v1.1h-1.3z M562.17 216.80h1.5v26.60h-1.5z M563.47 216.80h1.3v1.1h-1.3z M565.55 216.80h1.5v26.60h-1.5z M566.85 216.80h1.3v1.1h-1.3z M568.92 199.60h1.5v43.80h-1.5z M570.22 199.60h1.3v1.1h-1.3z M572.30 203.00h1.5v40.40h-1.5z M573.60 203.00h1.3v1.1h-1.3z M575.68 214.60h1.5v28.80h-1.5z M576.98 214.60h1.3v1.1h-1.3z M579.05 223.90h1.5v19.50h-1.5z M580.35 223.90h1.3v1.1h-1.3z M582.43 222.00h1.5v21.40h-1.5z M583.73 222.00h1.3v1.1h-1.3z M585.81 230.00h1.5v13.40h-1.5z M587.11 230.00h1.3v1.1h-1.3z M589.19 221.25h1.5v22.15h-1.5z M590.49 221.25h1.3v1.1h-1.3z M592.56 231.50h1.5v11.90h-1.5z M593.86 231.50h1.3v1.1h-1.3z M595.94 231.50h1.5v11.90h-1.5z M597.24 231.50h1.3v1.1h-1.3z M599.32 233.60h1.5v9.80h-1.5z M600.62 233.60h1.3v1.1h-1.3z M602.69 233.60h1.5v9.80h-1.5z M603.99 233.60h1.3v1.1h-1.3z M606.07 238.75h1.5v4.65h-1.5z M607.37 238.75h1.3v1.1h-1.3z M609.45 243.40h1.5v2.60h-1.5z M610.75 244.90h1.3v1.1h-1.3z M612.83 243.40h1.5v0.50h-1.5z M614.13 242.80h1.3v1.1h-1.3z M616.20 234.40h1.5v9.00h-1.5z M617.50 234.40h1.3v1.1h-1.3z M619.58 232.90h1.5v10.50h-1.5z M620.88 232.90h1.3v1.1h-1.3z M622.96 240.20h1.5v3.20h-1.5z M624.26 240.20h1.3v1.1h-1.3z M626.33 243.40h1.5v2.60h-1.5z M627.63 244.90h1.3v1.1h-1.3z M629.71 243.40h1.5v14.25h-1.5z M631.01 256.55h1.3v1.1h-1.3z M633.09 243.40h1.5v7.30h-1.5z M634.39 249.60h1.3v1.1h-1.3z M636.47 243.40h1.5v15.70h-1.5z M637.77 258.00h1.3v1.1h-1.3z M639.84 243.40h1.5v16.40h-1.5z M641.14 258.70h1.3v1.1h-1.3z M643.22 243.40h1.5v20.00h-1.5z M644.52 262.30h1.3v1.1h-1.3z M646.60 243.40h1.5v12.00h-1.5z M647.90 254.30h1.3v1.1h-1.3z M649.97 243.40h1.5v9.80h-1.5z M651.27 252.10h1.3v1.1h-1.3z M653.35 243.40h1.5v12.00h-1.5z M654.65 254.30h1.3v1.1h-1.3z M656.73 243.40h1.5v16.40h-1.5z M658.03 258.70h1.3v1.1h-1.3z M660.11 243.40h1.5v14.20h-1.5z M661.41 256.50h1.3v1.1h-1.3z M663.48 243.40h1.5v11.30h-1.5z M664.78 253.60h1.3v1.1h-1.3z M666.86 243.40h1.5v3.30h-1.5z M668.16 245.60h1.3v1.1h-1.3z M670.24 243.40h1.5v0.40h-1.5z M671.54 242.40h1.3v1.1h-1.3z M673.61 243.40h1.5v4.70h-1.5z M674.91 247.00h1.3v1.1h-1.3z M676.99 243.40h1.5v2.50h-1.5z M678.29 244.80h1.3v1.1h-1.3z M680.37 237.20h1.5v6.20h-1.5z M681.67 237.20h1.3v1.1h-1.3z M683.75 222.70h1.5v20.70h-1.5z M685.05 222.70h1.3v1.1h-1.3z M687.12 215.40h1.5v28.00h-1.5z M688.42 215.40h1.3v1.1h-1.3z M690.50 214.00h1.5v29.40h-1.5z M691.80 214.00h1.3v1.1h-1.3z M693.88 226.50h1.5v16.90h-1.5z M695.18 226.50h1.3v1.1h-1.3z M697.25 236.70h1.5v6.70h-1.5z M698.55 236.70h1.3v1.1h-1.3z M700.63 243.40h1.5v2.70h-1.5z M701.93 245.00h1.3v1.1h-1.3z M704.01 243.40h1.5v9.30h-1.5z M705.31 251.60h1.3v1.1h-1.3z M707.39 243.40h1.5v5.60h-1.5z M708.69 247.90h1.3v1.1h-1.3z M710.76 243.40h1.5v2.70h-1.5z M712.06 245.00h1.3v1.1h-1.3z M714.14 237.40h1.5v6.00h-1.5z M715.44 237.40h1.3v1.1h-1.3z M717.52 229.40h1.5v14.00h-1.5z M718.82 229.40h1.3v1.1h-1.3z M720.89 225.00h1.5v18.40h-1.5z M722.19 225.00h1.3v1.1h-1.3z M724.27 223.50h1.5v19.90h-1.5z M725.57 223.50h1.3v1.1h-1.3z M727.65 222.10h1.5v21.30h-1.5z M728.95 222.10h1.3v1.1h-1.3z M731.03 212.60h1.5v30.80h-1.5z M732.33 212.60h1.3v1.1h-1.3z M734.40 193.40h1.5v50.00h-1.5z M735.70 193.40h1.3v1.1h-1.3z M737.78 170.00h1.5v73.40h-1.5z M739.08 170.00h1.3v1.1h-1.3z M741.16 152.30h1.5v91.10h-1.5z M742.46 152.30h1.3v1.1h-1.3z M744.53 126.00h1.5v117.40h-1.5z M745.83 126.00h1.3v1.1h-1.3z M747.91 144.70h1.5v98.70h-1.5z M749.21 144.70h1.3v1.1h-1.3z" fill="#1a1a1a" fill-opacity="0.85"/>
<path d="M42.60 253.75 L47.20 249.60 L53.00 247.10 L58.80 249.20 L66.30 252.90 L73.00 251.70 L79.70 251.25 L84.70 250.00 L89.70 247.10 L94.00 250.20 L103.00 246.50 L112.00 242.75 L122.50 242.00 L133.00 239.75 L143.50 238.25 L151.00 230.00 L160.00 219.50 L168.75 207.00 L176.25 199.00 L184.50 177.00 L192.20 155.00 L196.00 138.00 L200.00 125.00 L204.70 106.00 L208.00 93.00 L211.00 86.00 L213.75 84.50 L216.90 87.50 L221.50 81.00 L225.00 86.70 L227.50 100.00 L229.70 116.70 L231.70 133.30 L234.20 151.70 L236.80 168.75 L239.50 186.00 L243.00 198.00 L246.50 199.50 L251.00 202.50 L254.50 197.00 L257.00 188.00 L260.00 181.50 L262.00 180.70 L265.60 185.10 L269.30 180.70 L273.60 180.70 L278.75 168.30 L285.30 160.30 L290.40 167.60 L294.80 172.00 L297.50 173.50 L301.50 171.00 L306.80 152.00 L311.10 135.00 L315.50 117.50 L319.90 100.00 L323.50 86.00 L326.90 73.75 L329.40 67.50 L333.00 77.00 L336.90 70.60 L343.75 75.00 L350.00 82.00 L355.30 88.75 L357.50 96.25 L360.60 99.40 L364.40 106.90 L368.75 103.75 L373.75 98.10 L378.10 103.10 L381.90 117.50 L383.75 123.10 L387.50 110.00 L393.75 99.40 L398.75 102.50 L405.00 105.60 L410.00 104.40 L416.25 105.60 L422.50 110.00 L427.50 118.10 L431.90 122.50 L436.25 119.40 L440.60 116.25 L447.50 122.50 L451.90 113.75 L455.60 107.50 L461.25 109.40 L465.00 115.60 L467.80 120.00 L473.00 138.00 L476.25 139.70 L481.90 144.40 L486.60 154.70 L491.25 168.75 L495.90 176.25 L502.50 176.25 L509.10 180.90 L513.75 190.30 L519.40 187.50 L523.75 195.00 L528.75 200.60 L533.75 196.25 L538.75 191.50 L545.00 180.60 L550.00 180.00 L555.00 174.40 L560.00 173.75 L566.25 175.60 L572.50 168.75 L578.50 175.00 L585.00 167.50 L590.00 163.10 L596.25 165.00 L601.90 166.90 L606.90 173.10 L612.50 168.75 L617.50 166.25 L623.75 168.10 L630.00 176.25 L635.00 173.75 L638.75 178.75 L645.00 183.75 L652.50 179.40 L657.50 181.25 L662.50 178.75 L668.75 175.60 L673.75 177.50 L677.50 180.00 L681.25 175.00 L685.50 166.00 L690.60 157.50 L695.00 166.25 L700.00 177.50 L704.40 186.25 L710.00 179.40 L716.25 172.50 L721.25 161.25 L725.00 150.00 L729.60 134.00 L736.90 116.50 L742.00 107.00 L743.40 97.50 L744.90 92.40 L747.80 96.00 L749.30 101.10" stroke="#5090d6" stroke-width="5" fill="none" stroke-linejoin="round" stroke-linecap="round" stroke-opacity="0.45"/>
<text x="244" y="486" font-size="11.5" font-weight="bold" fill="#555555" textLength="88" lengthAdjust="spacingAndGlyphs">YILLIK DEĞİŞİM</text>
<text x="384" y="486" font-size="11.5" font-weight="bold" fill="#555555" textLength="195" lengthAdjust="spacingAndGlyphs">BAŞ YÜKSEKLİK ORAN HİSSE SENETLERİ</text>
</svg>
</body></html>
